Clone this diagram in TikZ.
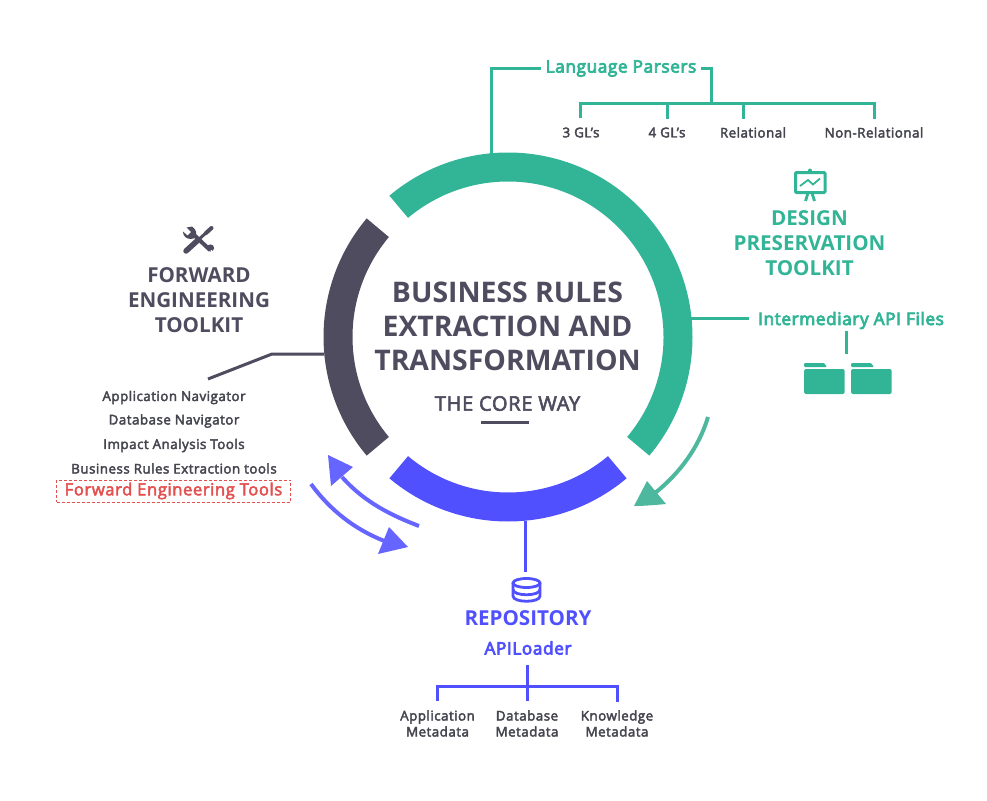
\documentclass[tikz,border=0pt]{standalone}
\usepackage{fontspec}
\setmainfont{Open Sans}
\newfontfamily\semi[FakeBold=3,LetterSpace=3.5]{Open Sans}
\newfontfamily\semib[FakeBold=4.5,LetterSpace=3.5]{Open Sans}
\usetikzlibrary{calc}
\definecolor{grn}{HTML}{32B496}
\definecolor{grnl}{HTML}{4DB89D}
\definecolor{drk}{HTML}{4E4C5E}
\definecolor{blu}{HTML}{5050FF}
\definecolor{pur}{HTML}{6765FF}
\definecolor{txt}{HTML}{45454F}
\definecolor{redt}{HTML}{E2504F}
\tikzset{
 seg/.style={fill=#1,draw=none},
 wire/.style={draw=#1,line width=3pt},
 title/.style={font=\bfseries\fontsize{20.6}{25}\selectfont,text=#1,align=center,inner sep=0pt},
 sub/.style={font=\semib\fontsize{17.2}{20}\selectfont,text=#1,inner sep=0pt},
 lbl/.style={font=\semi\fontsize{13.4}{16}\selectfont,text=txt,align=center,inner sep=0pt},
 tool/.style={font=\semi\fontsize{13.4}{16}\selectfont,text=txt,inner sep=0pt},
}
\begin{document}
\begin{tikzpicture}[x=1pt,y=-1pt]
\useasboundingbox (0,0) rectangle (987,800);
\coordinate (c) at (508,337);
% ring
\fill[seg=grn] ($(c)+(-130:184.5)$) arc[start angle=-130,end angle=40,radius=184.5] -- ($(c)+(40:155.5)$) arc[start angle=40,end angle=-130,radius=155.5] -- cycle;
\fill[seg=drk] ($(c)+(140:184.5)$) arc[start angle=140,end angle=220,radius=184.5] -- ($(c)+(220:155.5)$) arc[start angle=220,end angle=140,radius=155.5] -- cycle;
\fill[seg=blu] ($(c)+(50:184.5)$) arc[start angle=50,end angle=130,radius=184.5] -- ($(c)+(130:155.5)$) arc[start angle=130,end angle=50,radius=155.5] -- cycle;
% centre
\node[font=\bfseries\fontsize{28.4}{34}\selectfont,text=drk,align=center,inner sep=0pt] (core) at (507.5,326.5) {BUSINESS RULES\\EXTRACTION AND\\TRANSFORMATION};
\node[font=\semi\fontsize{20}{23}\selectfont,text=drk,inner sep=0pt] (way) at (507.5,403.5) {THE CORE WAY};
\coordinate (ul) at (481,422); \coordinate (ur) at (529,422);
\draw[wire=drk] (ul) -- (ur);
% Language parsers
\node[sub=grn] (lang) at (621,68.5) {Language Parsers};
\coordinate (ringtop) at (491,154);
\draw[wire=grn] (ringtop) -- (491,68) -- (541,68);
\coordinate (lp) at (711,103);
\draw[wire=grn] (701,68) -- (711,68) -- (lp);
\node[lbl] (g3) at (581,132.5) {3 GL’s};
\node[lbl] (g4) at (667,132.5) {4 GL’s};
\node[lbl] (rel) at (753,132.5) {Relational};
\node[lbl] (nrel) at (874,132.5) {Non-Relational};
\draw[wire=grn] (580,118) -- (580,103.5) -- (874,103.5) -- (874,119);
\draw[wire=grn] (667,103.5) -- (667,119);
\draw[wire=grn] (743,103.5) -- (743,119);
% Design toolkit
\node[title=grn] (design) at (809.5,243) {DESIGN\\PRESERVATION\\TOOLKIT};
\draw[draw=grn,line width=3pt,rounded corners=1pt,fill=white] (795.5,172.5) rectangle (825,192.5);
\fill[grn] (810,170.5) circle (2pt);
\draw[grn,line width=2.8pt] (808,193) -- (805.5,201) (812,193) -- (814.5,201);
\draw[grn,line width=1.8pt] (800,186) -- (808,180) -- (813,184.5) -- (820,178.5);
\node[sub=grn] (api) at (851,320.5) {Intermediary API Files};
\coordinate (rr) at (691,318);
\draw[wire=grn] (rr) -- (749,318);
\draw[wire=grn] (846,331) -- (846,354);
\foreach \x in {804,851}{
 \fill[grn,rounded corners=1.5pt] (\x,369) rectangle ++(40.5,25);
 \fill[grn,rounded corners=1pt] (\x,367) -- (\x,363) -- ++(20,0) -- ++(3,4) -- cycle;
}
% Forward toolkit
\node[title=drk] (fwd) at (199,300) {FORWARD\\ENGINEERING\\TOOLKIT};
\draw[wire=drk] (324,354) -- (272,354) -- (208,379);
\node[tool] (t1) at (174,397.5) {Application Navigator};
\node[tool] (t2) at (174,421) {Database Navigator};
\node[tool] (t3) at (174,445.5) {Impact Analysis Tools};
\node[tool] (t4) at (174,468.5) {Business Rules Extraction tools};
\node[font=\semi\fontsize{16.6}{18}\selectfont,text=redt,draw=redt,densely dashed,line width=0.7pt,minimum width=234pt,minimum height=22pt,inner sep=0pt] (t5) at (173.5,491) {\raisebox{-1.3pt}{Forward Engineering Tools}};
% wrench icon
\draw[drk,line width=4pt] (192,233) -- (210,250);
\fill[drk] (183,231.5) -- (187.5,235.5) -- (191,232) -- (186.5,227.5) -- (192,226.5) .. controls (197,230) and (197,234) .. (195,238) -- (191,239) .. controls (186,239) and (183,236) .. cycle;
\fill[drk] (210.5,248) circle (3.6pt);
\fill[white] (211.5,251) circle (1.1pt);
\draw[drk,line width=5.5pt,line cap=round] (186,251) -- (197,241);
\draw[drk,line width=3pt] (197,241) -- (207,232);
\draw[drk,line width=4pt,line cap=round] (206,233) -- (211.5,228);
% arrows
\draw[grnl,line width=4pt] (708,417) .. controls (699,447) and (680,473) .. (655,493);
\fill[grnl] (634,506) -- (647,481) -- (666,504) .. controls (655,505) and (644,506) .. cycle;
\draw[pur,line width=4pt] (419,526) .. controls (393,516) and (365,503) .. (342,477);
\fill[pur] (328,455) -- (353,467) -- (331,486) -- cycle;
\draw[pur,line width=4pt] (311,484) .. controls (330,510) and (355,530) .. (387,542);
\fill[pur] (408,547) -- (389,527) -- (378,554) -- cycle;
% repository
\coordinate (rb) at (525,521);
\draw[wire=blu] (rb) -- (525,572);
\draw[blu,line width=2.8pt] (526.5,583) ellipse (13.5pt and 4.5pt);
\draw[blu,line width=2.8pt] (513,583) -- (513,596) .. controls (513,603) and (540,603) .. (540,596) -- (540,583);
\draw[blu,line width=2.8pt] (513,589.5) .. controls (513,596.5) and (540,596.5) .. (540,589.5);
\node[title=blu] (repo) at (528,618) {REPOSITORY};
\node[sub=blu] (apil) at (528,648) {APILoader};
\draw[wire=blu] (527.7,665) -- (527.7,701);
\draw[wire=blu] (437.5,701) -- (437.5,686.7) -- (617,686.7) -- (617,702);
\node[lbl] (m1) at (437.5,723.5) {Application\\Metadata};
\node[lbl] (m2) at (527,723.5) {Database\\Metadata};
\node[lbl] (m3) at (617,723.5) {Knowledge\\Metadata};
\end{tikzpicture}
\end{document}
